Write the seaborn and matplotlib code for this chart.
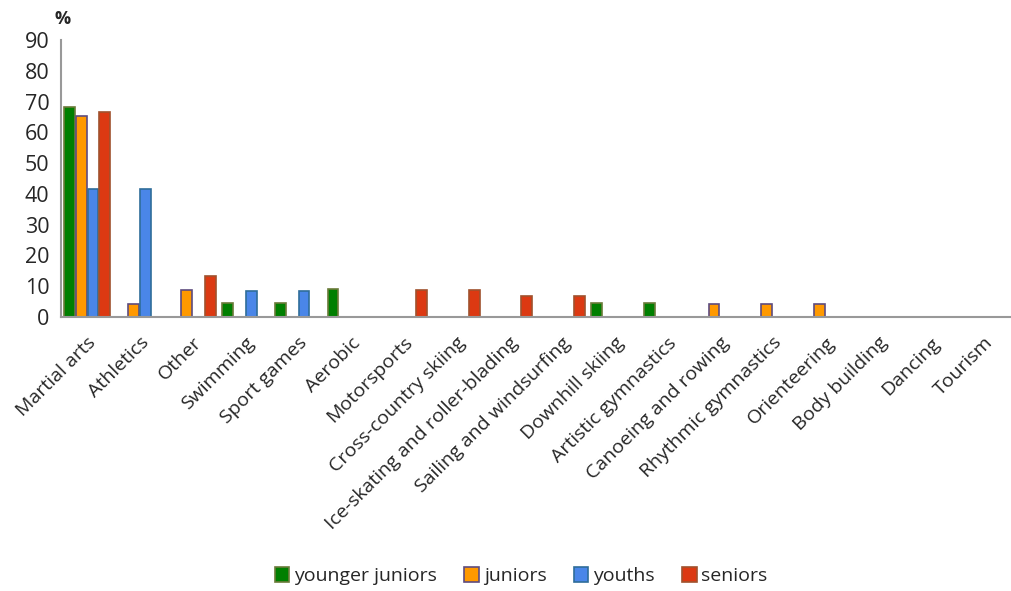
import numpy as np
import pandas as pd
import seaborn as sns
import matplotlib.pyplot as plt

# categories and values (NaN = no bar)
sports = ["Martial arts", "Athletics", "Other", "Swimming", "Sport games", "Aerobic",
          "Motorsports", "Cross-country skiing", "Ice-skating and roller-blading",
          "Sailing and windsurfing", "Downhill skiing", "Artistic gymnastics",
          "Canoeing and rowing", "Rhythmic gymnastics", "Orienteering",
          "Body building", "Dancing", "Tourism"]
nan = np.nan
younger_juniors = [68.2, nan, nan, 4.5, 4.5, 9.1, nan, nan, nan, nan, 4.5, 4.5, nan, nan, nan, nan, nan, nan]
juniors = [65.2, 4.3, 8.7, nan, nan, nan, nan, nan, nan, nan, nan, nan, 4.3, 4.3, 4.3, nan, nan, nan]
youths = [41.7, 41.7, nan, 8.3, 8.3, nan, nan, nan, nan, nan, nan, nan, nan, nan, nan, nan, nan, nan]
seniors = [66.7, nan, 13.3, nan, nan, nan, 8.8, 8.8, 6.7, 6.7, nan, nan, nan, nan, nan, nan, nan, nan]
groups = ["younger juniors", "juniors", "youths", "seniors"]

df = pd.DataFrame({
    "sport": sports * 4,
    "group": [g for g in groups for _ in sports],
    "value": younger_juniors + juniors + youths + seniors,
})

colors = ["#007F00", "#FF9900", "#4A86E8", "#DC3912"]
edges = ["#6B7B3A", "#5E4C7F", "#2F6D9A", "#A0522D"]

sns.set_style("white")
plt.rcParams["font.family"] = ["Open Sans", "DejaVu Sans"]

fig = plt.figure(figsize=(10.12, 5.91), dpi=100)
ax = fig.add_axes([0.060, 0.4636, 0.938, 0.4686])

sns.barplot(data=df, x="sport", y="value", hue="group", order=sports, hue_order=groups,
            palette=colors, saturation=1, width=0.9, gap=0.08, ax=ax, legend=True)

for cont, ec in zip(ax.containers, edges):
    for bar in cont:
        bar.set_edgecolor(ec)
        bar.set_linewidth(1.2)

ax.set_ylim(0, 90)
ax.set_yticks(range(0, 91, 10))
ax.set_xlim(-0.5, len(sports) - 0.5)
ax.set_xlabel("")
ax.set_ylabel("")
ax.tick_params(axis="y", labelsize=15.5, length=0, pad=8)
ax.tick_params(axis="x", labelsize=14, length=0, pad=12)
plt.setp(ax.get_xticklabels(), rotation=45, ha="right", rotation_mode="anchor")

for s in ["top", "right"]:
    ax.spines[s].set_visible(False)
for s in ["left", "bottom"]:
    ax.spines[s].set_color("#999999")
    ax.spines[s].set_linewidth(1.5)

fig.text(0.054, 0.968, "%", fontsize=13, fontweight="bold", ha="left", va="center")

handles, labels = ax.get_legend_handles_labels()
ax.get_legend().remove()
for h, ec in zip(handles, edges):
    h.set_edgecolor(ec)
    h.set_linewidth(1.2)
fig.legend(handles, labels, loc="center", bbox_to_anchor=(0.515, 0.025), ncol=4,
           frameon=False, fontsize=14, handlelength=0.75, handleheight=0.75,
           handletextpad=0.25, columnspacing=1.4)

fig.savefig("out.png", dpi=100)
